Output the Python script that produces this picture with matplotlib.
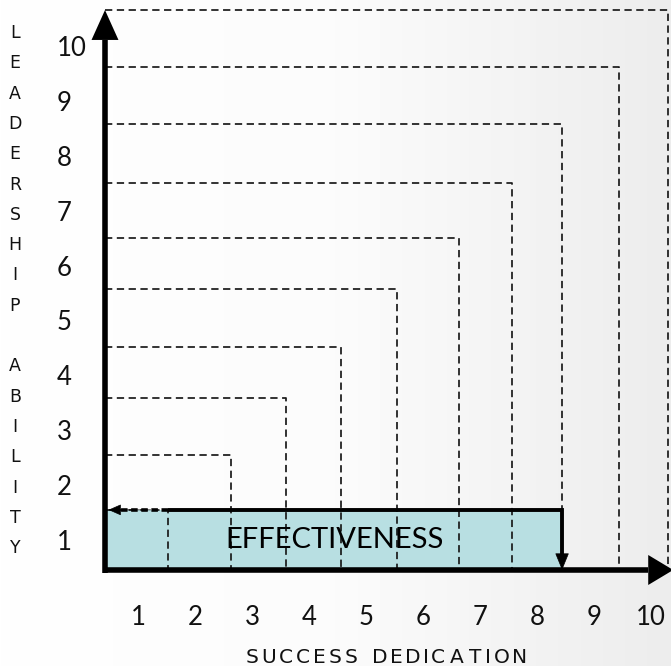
import numpy as np
import matplotlib
matplotlib.use("Agg")
import matplotlib.pyplot as plt
from matplotlib import font_manager
from matplotlib.textpath import TextPath
from matplotlib.font_manager import FontProperties
from matplotlib.colors import LinearSegmentedColormap

# ---- data ----
levels = [1, 2, 3, 4, 5, 6, 7, 8, 9, 10]
x_tick_labels = ["1", "2", "3", "4", "5", "6", "7", "8", "9", "10"]
y_tick_labels = ["1", "2", "3", "4", "5", "6", "7", "8", "9", "10"]
# corners of the dashed "lid" lines (right edge / top edge for each level)
lid_right = [1.53, 2.63, 3.60, 4.56, 5.54, 6.63, 7.56, 8.44, 9.44, 10.30]
lid_top = [1.55, 2.55, 3.59, 4.52, 5.58, 6.51, 7.51, 8.59, 9.63, 10.67]
effect_dedication = 8.44   # right edge of the effectiveness box
effect_leadership = 1.55   # top edge of the effectiveness box
x_title = "SUCCESS DEDICATION"
y_title = "LEADERSHIP ABILITY"
box_label = "EFFECTIVENESS"

# ---- fonts ----
avail = {f.name for f in font_manager.fontManager.ttflist}
num_font = "Lato" if "Lato" in avail else "DejaVu Sans"
narrow = "Liberation Sans Narrow" if "Liberation Sans Narrow" in avail else "DejaVu Sans"

fig = plt.figure(figsize=(6.71, 6.66), dpi=100)
ax = fig.add_axes([0, 0, 1, 1])
xmin, xmax = -1.421, 10.351
ymin, ymax = -1.299, 10.854
ax.set_xlim(xmin, xmax)
ax.set_ylim(ymin, ymax)
ax.axis("off")

# background gradient
grad = np.linspace(0, 1, 256)[None, :]
cmap = LinearSegmentedColormap.from_list("bg", ["#ffffff", "#fcfcfc", "#ededed"])
ax.imshow(grad, extent=[xmin, xmax, ymin, ymax], aspect="auto", cmap=cmap,
          zorder=0, origin="lower")

x0, y0 = 0.421, 0.453   # origin of the drawn axes

# effectiveness box
ax.fill_between([x0, effect_dedication], y0, effect_leadership,
                color="#b8dfe2", zorder=1, lw=0)

dash = (0, (4.2, 2.6))
for r, t in zip(lid_right, lid_top):
    ax.plot([x0, r, r], [t, t, y0], color="#1a1a1a", lw=1.25,
            linestyle=dash, zorder=2, solid_joinstyle="miter")

# box top (solid part) and right side
ax.plot([lid_right[0], effect_dedication, effect_dedication],
        [effect_leadership, effect_leadership, y0 + 0.2],
        color="black", lw=2.8, zorder=4, solid_capstyle="butt",
        solid_joinstyle="miter")
# dashed thick segment to the y axis
ax.plot([lid_right[0], x0 + 0.2], [effect_leadership, effect_leadership],
        color="black", lw=2.6, linestyle=(0, (1.8, 1.0)), zorder=4,
        dash_capstyle="butt")
# arrowheads of the box
ax.annotate("", xy=(effect_dedication, y0), xytext=(effect_dedication, y0 + 0.6),
            arrowprops=dict(arrowstyle="-|>,head_length=1.1,head_width=0.45",
                            mutation_scale=10, lw=0.5, color="black",
                            shrinkA=0, shrinkB=0), zorder=5)
ax.annotate("", xy=(x0 + 0.06, effect_leadership),
            xytext=(x0 + 0.8, effect_leadership),
            arrowprops=dict(arrowstyle="-|>,head_length=0.8,head_width=0.35",
                            mutation_scale=10, lw=0.5, color="black",
                            shrinkA=0, shrinkB=0), zorder=5)

# main axes lines
ax.plot([x0, x0], [y0 - 0.05, 10.12], color="black", lw=4.0,
        solid_capstyle="butt", zorder=6)
ax.plot([x0 - 0.04, 9.95], [y0, y0], color="black", lw=4.0,
        solid_capstyle="butt", zorder=6)
ax.annotate("", xy=(x0, 10.67), xytext=(x0, 8.0), annotation_clip=False,
            arrowprops=dict(arrowstyle="-|>,head_length=2.15,head_width=0.97",
                            mutation_scale=10, lw=0.0, color="black",
                            shrinkA=0, shrinkB=0), zorder=7)
ax.annotate("", xy=(10.39, y0), xytext=(8.0, y0), annotation_clip=False,
            arrowprops=dict(arrowstyle="-|>,head_length=1.8,head_width=1.08",
                            mutation_scale=10, lw=0.0, color="black",
                            shrinkA=0, shrinkB=0), zorder=7)

# tick labels
for k, lab in zip(levels, x_tick_labels):
    ax.text(k, -0.405, lab, ha="center", va="center", fontsize=18.5,
            family=num_font, color="#111111")
for k, lab in zip(levels, y_tick_labels):
    ax.text(-0.42, k - 0.04, lab, ha="left", va="center", fontsize=18.5,
            family=num_font, color="#111111")

# box label
ax.text(4.44, 1.0, box_label, ha="center", va="center", fontsize=21,
        family=num_font, color="#000000", zorder=8)

# x axis title with letter spacing
fs_title = 14.5
fp = FontProperties(family="DejaVu Sans", size=fs_title)
px_per_u = 57.0
pt2px = 100 / 72.0
target_px = 278.0
widths = []
for ch in x_title:
    if ch == " ":
        widths.append(0.3 * fs_title * pt2px)
    else:
        tp = TextPath((0, 0), ch, size=fs_title * pt2px, prop=fp)
        widths.append(tp.get_extents().width)
extra_px = max(1.0, (target_px - sum(widths)) / (len(x_title) - 1))
total = sum(widths) + extra_px * (len(x_title) - 1)
cur = 386 - total / 2
for ch, w in zip(x_title, widths):
    if ch != " ":
        ax.text((cur + w / 2 - 81) / px_per_u, -1.135, ch, ha="center",
                va="center", fontsize=fs_title, family="DejaVu Sans",
                color="#111111")
    cur += w + extra_px

# stacked y axis title
top_v = (594.8 - 33) / 54.8
step = 30.3 / 54.8
for i, ch in enumerate(y_title):
    if ch == " ":
        continue
    ax.text(-1.158, top_v - i * step, ch, ha="center", va="center",
            fontsize=12.5, family=narrow, color="#111111")

fig.savefig("out.png", dpi=100)
